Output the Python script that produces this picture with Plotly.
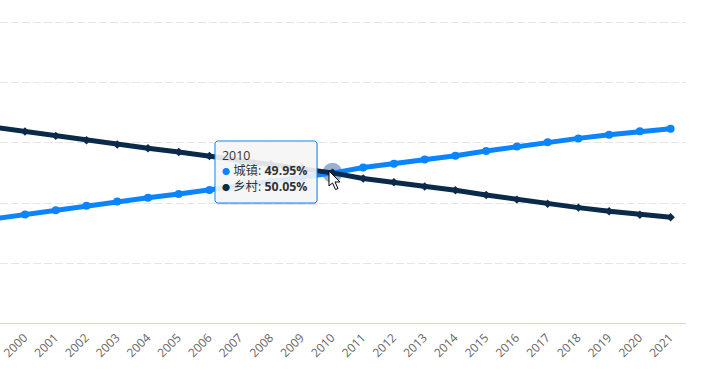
import plotly.graph_objects as go

years = [1999, 2000, 2001, 2002, 2003, 2004, 2005, 2006, 2007, 2008, 2009, 2010,
         2011, 2012, 2013, 2014, 2015, 2016, 2017, 2018, 2019, 2020, 2021]
urban = [34.78, 36.22, 37.66, 39.09, 40.53, 41.76, 42.99, 44.34, 45.89, 46.99, 48.34, 49.95,
         51.83, 53.10, 54.49, 55.75, 57.33, 58.84, 60.24, 61.50, 62.71, 63.89, 64.72]
rural = [65.22, 63.78, 62.34, 60.91, 59.47, 58.24, 57.01, 55.66, 54.11, 53.01, 51.66, 50.05,
         48.17, 46.90, 45.51, 44.25, 42.67, 41.16, 39.76, 38.50, 37.29, 36.11, 35.28]
tick_years = years[1:]
hover_year = 2010
BLUE = "#0a84ff"
NAVY = "#0b2a4a"
W, H = 702, 374
L, R, T, B = 0, 16, 20, 51
PW, PH = W - L - R, H - T - B

def px(x):
    return (x - L) / PW

def py(y):
    return 1 - (y - T) / PH

def rrect(x0, y0, x1, y1, r):
    return (f"M {px(x0+r):.5f},{py(y0):.5f} L {px(x1-r):.5f},{py(y0):.5f} "
            f"L {px(x1):.5f},{py(y0+r):.5f} L {px(x1):.5f},{py(y1-r):.5f} "
            f"L {px(x1-r):.5f},{py(y1):.5f} L {px(x0+r):.5f},{py(y1):.5f} "
            f"L {px(x0):.5f},{py(y1-r):.5f} L {px(x0):.5f},{py(y0+r):.5f} Z")

fig = go.Figure()
i = years.index(hover_year)
fig.add_trace(go.Scatter(x=[hover_year], y=[rural[i]], mode="markers", showlegend=False,
                         marker=dict(size=20, color="rgba(10,70,150,0.42)", line=dict(width=0)),
                         hoverinfo="skip"))
fig.add_trace(go.Scatter(x=years, y=urban, mode="lines+markers", name="城镇", showlegend=False,
                         line=dict(color=BLUE, width=5), marker=dict(size=8, color=BLUE)))
fig.add_trace(go.Scatter(x=years, y=rural, mode="lines+markers", name="乡村", showlegend=False,
                         line=dict(color=NAVY, width=5),
                         marker=dict(size=6.5, color=NAVY, symbol="diamond")))

# tooltip box
fig.add_shape(type="path", xref="paper", yref="paper", path=rrect(216, 142, 318, 205, 2),
              fillcolor="rgba(0,0,0,0.10)", line=dict(width=0), layer="above")
fig.add_shape(type="path", xref="paper", yref="paper", path=rrect(215, 141, 317, 203, 2),
              fillcolor="rgba(247,247,247,0.90)", line=dict(color=BLUE, width=1), layer="above")

bullet = "<span style='color:{c};font-size:8px'>●</span>"
size = "<span style='font-size:12.4px'>{t}</span>"
tip = (size.format(t=hover_year) + "<br>"
       + bullet.format(c=BLUE) + size.format(t=f" 城镇: <b>{urban[i]:.2f}%</b>") + "<br>"
       + bullet.format(c=NAVY) + size.format(t=f" 乡村: <b>{rural[i]:.2f}%</b>"))
fig.add_annotation(xref="paper", yref="paper", x=px(215), y=py(140), xanchor="left", yanchor="top",
                   text=tip, showarrow=False, align="left", width=88, height=48, borderpad=6,
                   font=dict(family="'Open Sans','Noto Sans CJK SC',sans-serif", size=12, color="#333"))

cursor = [(329, 171), (329, 186), (332.5, 183), (335.5, 189.5), (338, 188.5), (335, 182), (340, 182)]
path = "M " + " L ".join(f"{px(a):.5f},{py(b):.5f}" for a, b in cursor) + " Z"
fig.add_shape(type="path", xref="paper", yref="paper", path=path, fillcolor="white",
              line=dict(color="black", width=1), layer="above")

fig.update_layout(
    width=W, height=H, margin=dict(l=L, r=R, t=T, b=B), paper_bgcolor="white", plot_bgcolor="white",
    showlegend=False,
    xaxis=dict(range=[2000 - 25 / 30.71, 2021.5], tickmode="array", tickvals=tick_years,
               ticktext=[str(y) for y in tick_years], tickangle=-45, showgrid=False, zeroline=False,
               showline=True, linecolor="#ccd6eb", linewidth=1, ticks="", ticklabelshift=-1,
               ticklabelstandoff=2, ticklabeloverflow="allow",
               tickfont=dict(family="'Open Sans',sans-serif", size=12, color="#666")),
    yaxis=dict(range=[0.166, 100.83], tickvals=[20, 40, 60, 80, 100], showticklabels=False,
               zeroline=False, showline=False,
               gridcolor="#e6e6e6", griddash="8px,3px", gridwidth=1),
)
fig.write_html("out.html", post_script="document.body.style.margin='0';document.body.style.overflow='hidden';",
               config=dict(displayModeBar=False))
